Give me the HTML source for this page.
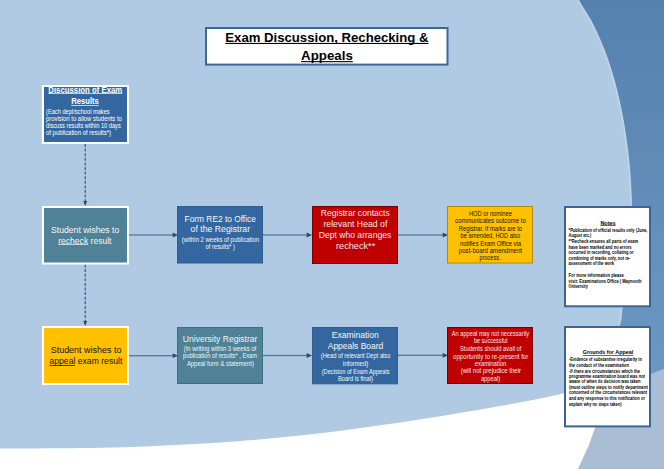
<!DOCTYPE html>
<html><head><meta charset="utf-8"><title>Exam Discussion, Rechecking &amp; Appeals</title>
<style>
html,body{margin:0;padding:0;width:664px;height:469px;overflow:hidden;background:#B1CAE3;}
svg{display:block;font-family:"Liberation Sans", sans-serif;}
</style></head><body>
<svg width="664" height="469" viewBox="0 0 664 469">
<defs><linearGradient id="dg" gradientUnits="userSpaceOnUse" x1="0" y1="0" x2="0" y2="370"><stop offset="0" stop-color="#5581AE"/><stop offset="1" stop-color="#6D97C3"/></linearGradient></defs>
<rect x="0" y="0" width="664" height="469" fill="#A9BDD5"/>
<path d="M560,0 L664,0 L664,368.8 L651,374 L600,395 L560,300 Z" fill="url(#dg)"/>
<path d="M0,469 L0,430 L600,390 L595.2,427.4 L588.5,446 L577.9,469 Z" fill="#FFFFFF"/>
<path d="M579.2,-10.0 C579.2,-8.3 577.2,-5.0 579.2,0.0 C581.2,5.0 587.5,13.3 591.1,20.0 C594.7,26.7 597.7,33.3 600.6,40.0 C603.5,46.7 606.1,53.3 608.4,60.0 C610.7,66.7 612.7,73.3 614.6,80.0 C616.5,86.7 618.0,92.5 619.6,100.0 C621.2,107.5 623.1,116.7 624.5,125.0 C625.9,133.3 627.1,141.7 628.1,150.0 C629.1,158.3 630.0,165.8 630.6,175.0 C631.2,184.2 631.8,195.0 632.0,205.0 C632.2,215.0 632.4,221.7 631.8,235.0 C631.2,248.3 630.0,273.0 628.5,285.0 C627.0,297.0 624.2,300.3 622.8,307.0 C621.4,313.7 623.1,316.2 620.1,325.0 C617.1,333.8 610.9,350.3 605.0,360.0 C599.1,369.7 591.8,377.4 585.0,383.0 C578.2,388.6 578.2,389.5 564.0,393.3 C549.8,397.1 527.3,401.1 500.0,406.0 C472.7,410.9 433.3,417.6 400.0,422.5 C366.7,427.4 333.3,432.1 300.0,435.6 C266.7,439.1 233.3,441.7 200.0,443.7 C166.7,445.7 133.3,447.0 100.0,447.8 C66.7,448.6 18.3,448.4 0.0,448.5 C-18.3,448.6 -8.3,448.5 -10.0,448.5 L-10,-10 Z" fill="#B1CAE3"/>
<path d="M579.2,-10.0 C579.2,-8.3 577.2,-5.0 579.2,0.0 C581.2,5.0 587.5,13.3 591.1,20.0 C594.7,26.7 597.7,33.3 600.6,40.0 C603.5,46.7 606.1,53.3 608.4,60.0 C610.7,66.7 612.7,73.3 614.6,80.0 C616.5,86.7 618.0,92.5 619.6,100.0 C621.2,107.5 623.1,116.7 624.5,125.0 C625.9,133.3 627.1,141.7 628.1,150.0 C629.1,158.3 630.0,165.8 630.6,175.0 C631.2,184.2 631.8,195.0 632.0,205.0 C632.2,215.0 632.4,221.7 631.8,235.0 C631.2,248.3 630.0,273.0 628.5,285.0 C627.0,297.0 624.2,300.3 622.8,307.0 C621.4,313.7 620.5,322.0 620.1,325.0" transform="translate(-1.1,0)" fill="none" stroke="#BFD5EC" stroke-width="1.3"/>
<line x1="85.2" y1="144" x2="85.2" y2="202" stroke="#2E4C70" stroke-width="1.1" stroke-dasharray="3,1.6"/>
<path d="M83.2,201 L85.2,206 L87.2,201 Z" fill="#2E4C70"/>
<line x1="85.2" y1="264.5" x2="85.2" y2="322" stroke="#2E4C70" stroke-width="1.1" stroke-dasharray="3,1.6"/>
<path d="M83.2,321 L85.2,326 L87.2,321 Z" fill="#2E4C70"/>
<rect x="128.5" y="234.35" width="45.0" height="1.3" fill="#5A7594"/>
<path d="M172.7,232.6 L178.1,235 L172.7,237.4 Z" fill="#2E4C70"/>
<rect x="262.5" y="234.35" width="45.0" height="1.3" fill="#5A7594"/>
<path d="M306.7,232.6 L312.1,235 L306.7,237.4 Z" fill="#2E4C70"/>
<rect x="398" y="234.35" width="45.5" height="1.3" fill="#5A7594"/>
<path d="M442.7,232.6 L448.1,235 L442.7,237.4 Z" fill="#2E4C70"/>
<rect x="128.5" y="355.05" width="45.0" height="1.3" fill="#5A7594"/>
<path d="M172.7,353.3 L178.1,355.7 L172.7,358.09999999999997 Z" fill="#2E4C70"/>
<rect x="262.5" y="354.85" width="45.0" height="1.3" fill="#5A7594"/>
<path d="M306.7,353.1 L312.1,355.5 L306.7,357.9 Z" fill="#2E4C70"/>
<rect x="398" y="354.65000000000003" width="45.5" height="1.3" fill="#5A7594"/>
<path d="M442.7,352.90000000000003 L448.1,355.3 L442.7,357.7 Z" fill="#2E4C70"/>
<rect x="206.0" y="28.0" width="241.5" height="36.599999999999994" fill="#FFFFFF" stroke="#3F6798" stroke-width="2"/>
<text x="225.3" y="41.7" font-size="13.5" font-weight="bold" fill="#000" textLength="203.2" lengthAdjust="spacingAndGlyphs">Exam Discussion, Rechecking &amp;</text>
<rect x="225.3" y="42.9" width="203.2" height="1.1" fill="#000"/>
<text x="301.1" y="60" font-size="13.5" font-weight="bold" fill="#000" textLength="51.7" lengthAdjust="spacingAndGlyphs">Appeals</text>
<rect x="301.1" y="61.1" width="51.69999999999999" height="1.1" fill="#000"/>
<rect x="41.8" y="85" width="87.2" height="59" fill="#FFFFFF"/>
<rect x="44" y="87" width="83" height="55" fill="#3467A0"/>
<text x="48.3" y="92.6" font-size="8.3" font-weight="bold" fill="#FFFFFF" textLength="74.0" lengthAdjust="spacingAndGlyphs">Discussion of Exam</text>
<rect x="48.3" y="93.3" width="74.0" height="0.7" fill="#FFFFFF"/>
<text x="71.2" y="104.1" font-size="8.3" font-weight="bold" fill="#FFFFFF" textLength="27.7" lengthAdjust="spacingAndGlyphs">Results</text>
<rect x="71.2" y="105.1" width="27.700000000000003" height="0.7" fill="#FFFFFF"/>
<text x="46" y="113.6" font-size="6.8" font-weight="normal" fill="#FFFFFF" textLength="63.7" lengthAdjust="spacingAndGlyphs">(Each dept/school makes</text>
<text x="46" y="120.9" font-size="6.8" font-weight="normal" fill="#FFFFFF" textLength="75.9" lengthAdjust="spacingAndGlyphs">provision to allow students to</text>
<text x="46" y="128.1" font-size="6.8" font-weight="normal" fill="#FFFFFF" textLength="74.8" lengthAdjust="spacingAndGlyphs">discuss results within 10 days</text>
<text x="46" y="135.4" font-size="6.8" font-weight="normal" fill="#FFFFFF" textLength="65.0" lengthAdjust="spacingAndGlyphs">of publication of results*)</text>
<rect x="41.8" y="85" width="87.2" height="2" fill="#FFFFFF"/>
<rect x="42" y="206" width="87" height="58.5" fill="#FFFFFF"/>
<rect x="44" y="208" width="83" height="54.5" fill="#4F8197"/>
<text x="51" y="232.7" font-size="8.5" font-weight="normal" fill="#F4F7FA" textLength="68.3" lengthAdjust="spacingAndGlyphs">Student wishes to</text>
<text x="58.2" y="243.5" font-size="8.5" font-weight="normal" fill="#F4F7FA" textLength="53.3" lengthAdjust="spacingAndGlyphs">recheck result</text>
<rect x="58.2" y="244.3" width="29.799999999999997" height="0.7" fill="#F4F7FA"/>
<rect x="177.5" y="206.5" width="85" height="56.5" fill="#3467A0" stroke="#2F5C8E" stroke-width="1"/>
<text x="184.6" y="221.7" font-size="8.3" font-weight="normal" fill="#F4F7FA" textLength="71.2" lengthAdjust="spacingAndGlyphs">Form RE2 to Office</text>
<text x="190.6" y="232" font-size="8.3" font-weight="normal" fill="#F4F7FA" textLength="59.5" lengthAdjust="spacingAndGlyphs">of the Registrar</text>
<text x="181.8" y="241.6" font-size="6.8" font-weight="normal" fill="#F4F7FA" textLength="77.2" lengthAdjust="spacingAndGlyphs">(within 2 weeks of publication</text>
<text x="205.6" y="249.2" font-size="6.8" font-weight="normal" fill="#F4F7FA" textLength="29.3" lengthAdjust="spacingAndGlyphs">of results* )</text>
<rect x="312.5" y="206.5" width="85" height="57" fill="#C00000" stroke="#7A0000" stroke-width="1"/>
<text x="320.8" y="215.6" font-size="8.2" font-weight="normal" fill="#F6E6E6" textLength="68.9" lengthAdjust="spacingAndGlyphs">Registrar contacts</text>
<text x="323.4" y="226.8" font-size="8.2" font-weight="normal" fill="#F6E6E6" textLength="64.0" lengthAdjust="spacingAndGlyphs">relevant Head of</text>
<text x="318.7" y="238" font-size="8.2" font-weight="normal" fill="#F6E6E6" textLength="72.6" lengthAdjust="spacingAndGlyphs">Dept who arranges</text>
<text x="336" y="249" font-size="8.2" font-weight="normal" fill="#F6E6E6" textLength="39.2" lengthAdjust="spacingAndGlyphs">recheck**</text>
<rect x="447.5" y="206.5" width="85" height="56.5" fill="#FFC000" stroke="#B08A10" stroke-width="1"/>
<text x="468.9" y="215.7" font-size="6.8" font-weight="normal" fill="#1A1400" textLength="43.0" lengthAdjust="spacingAndGlyphs">HOD or nominee</text>
<text x="455" y="222.9" font-size="6.8" font-weight="normal" fill="#1A1400" textLength="70.8" lengthAdjust="spacingAndGlyphs">communicates outcome to</text>
<text x="458.8" y="230.5" font-size="6.8" font-weight="normal" fill="#1A1400" textLength="63.2" lengthAdjust="spacingAndGlyphs">Registrar. If marks are to</text>
<text x="460.6" y="237.9" font-size="6.8" font-weight="normal" fill="#1A1400" textLength="59.5" lengthAdjust="spacingAndGlyphs">be amended, HOD also</text>
<text x="460" y="245.5" font-size="6.8" font-weight="normal" fill="#1A1400" textLength="61.1" lengthAdjust="spacingAndGlyphs">notifies Exam Office via</text>
<text x="458.8" y="252.8" font-size="6.8" font-weight="normal" fill="#1A1400" textLength="63.2" lengthAdjust="spacingAndGlyphs">post-board amendment</text>
<text x="479.6" y="260.4" font-size="6.8" font-weight="normal" fill="#1A1400" textLength="20.9" lengthAdjust="spacingAndGlyphs">process.</text>
<rect x="565.0" y="207.0" width="85" height="99.30000000000001" fill="#FFFFFF" stroke="#3C6494" stroke-width="2"/>
<text x="600.4" y="224.6" font-size="5" font-weight="bold" fill="#000" textLength="15.3" lengthAdjust="spacingAndGlyphs">Notes</text>
<rect x="600.4" y="225.4" width="15.300000000000068" height="0.6" fill="#000"/>
<text x="568.6" y="231.6" font-size="4.6" font-weight="bold" fill="#000" textLength="78.9" lengthAdjust="spacingAndGlyphs">*Publication of official results only (June,</text>
<text x="568.6" y="237.2" font-size="4.6" font-weight="bold" fill="#000" textLength="22.6" lengthAdjust="spacingAndGlyphs">August etc.)</text>
<text x="568.6" y="242.9" font-size="4.6" font-weight="bold" fill="#000" textLength="69.6" lengthAdjust="spacingAndGlyphs">**Recheck ensures all parts of exam</text>
<text x="568.6" y="248.5" font-size="4.6" font-weight="bold" fill="#000" textLength="63.0" lengthAdjust="spacingAndGlyphs">have been marked and no errors</text>
<text x="568.6" y="254.2" font-size="4.6" font-weight="bold" fill="#000" textLength="65.0" lengthAdjust="spacingAndGlyphs">occurred in recording, collating or</text>
<text x="568.6" y="259.7" font-size="4.6" font-weight="bold" fill="#000" textLength="61.7" lengthAdjust="spacingAndGlyphs">combining of marks only, not re-</text>
<text x="568.6" y="265.3" font-size="4.6" font-weight="bold" fill="#000" textLength="45.5" lengthAdjust="spacingAndGlyphs">assessment of the work</text>
<text x="568.6" y="276.9" font-size="4.6" font-weight="bold" fill="#000" textLength="55.3" lengthAdjust="spacingAndGlyphs">For more information please</text>
<text x="568.6" y="282.5" font-size="4.6" font-weight="bold" fill="#000" textLength="72.9" lengthAdjust="spacingAndGlyphs">visit: Examinations Office | Maynooth</text>
<text x="568.6" y="288.2" font-size="4.6" font-weight="bold" fill="#000" textLength="19.3" lengthAdjust="spacingAndGlyphs">University</text>
<rect x="42" y="326" width="87" height="59" fill="#FFFFFF"/>
<rect x="44" y="328" width="83" height="55" fill="#FFC000"/>
<text x="50.7" y="353" font-size="8.5" font-weight="normal" fill="#1A1400" textLength="70.7" lengthAdjust="spacingAndGlyphs">Student  wishes to</text>
<text x="49.5" y="364.2" font-size="8.5" font-weight="normal" fill="#1A1400" textLength="72.8" lengthAdjust="spacingAndGlyphs">appeal exam result</text>
<rect x="49.5" y="365.2" width="25.5" height="0.8" fill="#1A1400"/>
<rect x="177.5" y="327.5" width="85" height="56" fill="#4F8197" stroke="#3E6E82" stroke-width="1"/>
<text x="182.8" y="342" font-size="8.5" font-weight="normal" fill="#F0F5F8" textLength="74.6" lengthAdjust="spacingAndGlyphs">University Registrar</text>
<text x="183.7" y="350.7" font-size="6.8" font-weight="normal" fill="#F0F5F8" textLength="72.5" lengthAdjust="spacingAndGlyphs">(In writing within 3 weeks of</text>
<text x="183" y="358.1" font-size="6.8" font-weight="normal" fill="#F0F5F8" textLength="74.1" lengthAdjust="spacingAndGlyphs">publication of results* , Exam</text>
<text x="186.9" y="365.7" font-size="6.8" font-weight="normal" fill="#F0F5F8" textLength="67.0" lengthAdjust="spacingAndGlyphs">Appeal form &amp; statement)</text>
<rect x="312.5" y="327.5" width="85" height="56.30000000000001" fill="#3467A0" stroke="#2F5C8E" stroke-width="1"/>
<text x="331.7" y="338.4" font-size="8.3" font-weight="normal" fill="#F4F7FA" textLength="47.0" lengthAdjust="spacingAndGlyphs">Examination</text>
<text x="327.8" y="349.4" font-size="8.3" font-weight="normal" fill="#F4F7FA" textLength="55.4" lengthAdjust="spacingAndGlyphs">Appeals Board</text>
<text x="320.8" y="358.3" font-size="6.8" font-weight="normal" fill="#F4F7FA" textLength="69.6" lengthAdjust="spacingAndGlyphs">(Head of relevant Dept also</text>
<text x="342.8" y="366.1" font-size="6.8" font-weight="normal" fill="#F4F7FA" textLength="25.5" lengthAdjust="spacingAndGlyphs">informed)</text>
<text x="321.7" y="373.8" font-size="6.8" font-weight="normal" fill="#F4F7FA" textLength="67.8" lengthAdjust="spacingAndGlyphs">(Decision of Exam Appeals</text>
<text x="337.9" y="381.0" font-size="6.8" font-weight="normal" fill="#F4F7FA" textLength="35.0" lengthAdjust="spacingAndGlyphs">Board is final)</text>
<rect x="447.5" y="327.5" width="85" height="56" fill="#C00000" stroke="#7A0000" stroke-width="1"/>
<text x="451.8" y="336.1" font-size="6.8" font-weight="normal" fill="#F6E6E6" textLength="77.2" lengthAdjust="spacingAndGlyphs">An appeal may not necessarily</text>
<text x="473.9" y="343.3" font-size="6.8" font-weight="normal" fill="#F6E6E6" textLength="33.6" lengthAdjust="spacingAndGlyphs">be successful</text>
<text x="460" y="350.9" font-size="6.8" font-weight="normal" fill="#F6E6E6" textLength="61.4" lengthAdjust="spacingAndGlyphs">Students should avail of</text>
<text x="453.1" y="358.5" font-size="6.8" font-weight="normal" fill="#F6E6E6" textLength="75.2" lengthAdjust="spacingAndGlyphs">opportunity to re-present for</text>
<text x="474.8" y="365.7" font-size="6.8" font-weight="normal" fill="#F6E6E6" textLength="31.4" lengthAdjust="spacingAndGlyphs">examination</text>
<text x="460.7" y="373.3" font-size="6.8" font-weight="normal" fill="#F6E6E6" textLength="60.4" lengthAdjust="spacingAndGlyphs">(will not prejudice their</text>
<text x="480.9" y="380.6" font-size="6.8" font-weight="normal" fill="#F6E6E6" textLength="19.2" lengthAdjust="spacingAndGlyphs">appeal)</text>
<rect x="565.0" y="327.0" width="85" height="99.39999999999998" fill="#FFFFFF" stroke="#3C6494" stroke-width="2"/>
<text x="582.7" y="354.3" font-size="5.3" font-weight="bold" fill="#000" textLength="50.6" lengthAdjust="spacingAndGlyphs">Grounds for Appeal</text>
<rect x="582.7" y="355.1" width="50.59999999999991" height="0.6" fill="#000"/>
<text x="568.9" y="361.1" font-size="4.6" font-weight="bold" fill="#000" textLength="73.0" lengthAdjust="spacingAndGlyphs">-Evidence of substantive irregularity in</text>
<text x="568.9" y="366.6" font-size="4.6" font-weight="bold" fill="#000" textLength="60.2" lengthAdjust="spacingAndGlyphs">the conduct of the examination</text>
<text x="568.9" y="372.5" font-size="4.6" font-weight="bold" fill="#000" textLength="71.1" lengthAdjust="spacingAndGlyphs">-If there are circumstances which the</text>
<text x="568.9" y="377.7" font-size="4.6" font-weight="bold" fill="#000" textLength="76.1" lengthAdjust="spacingAndGlyphs">programme examination board was not</text>
<text x="568.9" y="383.2" font-size="4.6" font-weight="bold" fill="#000" textLength="71.7" lengthAdjust="spacingAndGlyphs">aware of when its decision was taken</text>
<text x="568.9" y="388.8" font-size="4.6" font-weight="bold" fill="#000" textLength="78.9" lengthAdjust="spacingAndGlyphs">(must outline steps to notify department</text>
<text x="568.9" y="394.3" font-size="4.6" font-weight="bold" fill="#000" textLength="78.2" lengthAdjust="spacingAndGlyphs">concerned of the circumstances relevant</text>
<text x="568.9" y="399.9" font-size="4.6" font-weight="bold" fill="#000" textLength="76.1" lengthAdjust="spacingAndGlyphs">and any response to this notification or</text>
<text x="568.9" y="405.8" font-size="4.6" font-weight="bold" fill="#000" textLength="52.6" lengthAdjust="spacingAndGlyphs">explain why no steps taken)</text>
</svg>
</body></html>
